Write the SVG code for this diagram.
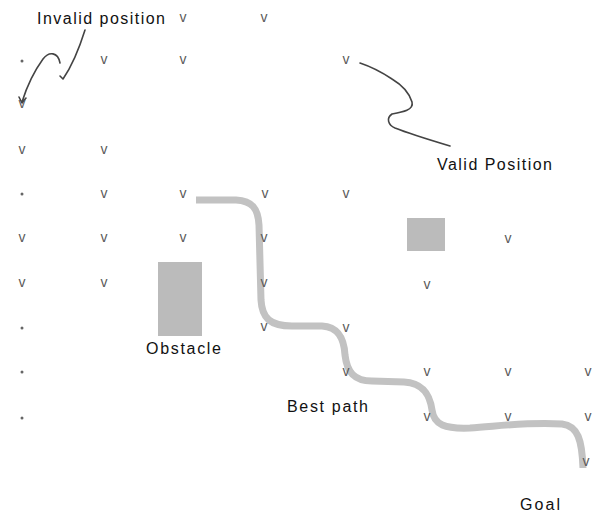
<svg xmlns="http://www.w3.org/2000/svg" width="592" height="516" viewBox="0 0 592 516">
<style>
.lbl{font-family:"Liberation Sans",Arial,sans-serif;font-size:16px;fill:#111}
.v{font-family:"Liberation Sans",Arial,sans-serif;font-size:14px;fill:#5a5a5a;text-anchor:middle}
.dot{fill:#666}
.obs{fill:#bbbbbb}
.best{fill:none;stroke:#c2c2c2;stroke-width:7;stroke-linecap:butt;stroke-linejoin:round}
.hand{fill:none;stroke:#444;stroke-width:1.6;stroke-linecap:round;stroke-linejoin:round}
</style>
<rect width="592" height="516" fill="#fff"/>
<g id="obstacle1"><rect class="obs" x="158" y="262" width="44" height="74"/></g>
<g id="obstacle2"><rect class="obs" x="407" y="218" width="38" height="33"/></g>
<g id="connectors">
<path id="best-path" class="best" d="M196,200 L236,200 C252,201 258,208 259,225 L261,300 C262,318 270,326 292,326 L322,326 C338,327 344,338 345,355 C347,372 354,381 372,381 L404,382 C424,383 430,396 432,410 C434,425 445,429 470,428 C500,426 525,422 562,424 C578,426 582,440 583,468"/>
<path class="hand" d="M85,30 C80,46 74,63 63,79 M63,79 L60,76"/>
<path class="hand" d="M60,63 C58,52 49,51 43,59 C35,70 27,86 22,102 M19,97 L22,103 L26,98"/>
<path class="hand" d="M360,63 C375,68 383,73 392,79 C402,85 409,92 412,102 C414,110 403,112 392,114 C386,118 388,125 395,128 C410,134 430,140 450,146"/>
</g>
<g id="labels">
<text class="lbl" x="37" y="24" textLength="128" lengthAdjust="spacing">Invalid position</text>
<text class="lbl" x="437" y="170" textLength="115" lengthAdjust="spacing">Valid Position</text>
<text class="lbl" x="146" y="354" textLength="75" lengthAdjust="spacing">Obstacle</text>
<text class="lbl" x="287" y="412" textLength="81" lengthAdjust="spacing">Best path</text>
<text class="lbl" x="520" y="510" textLength="40" lengthAdjust="spacing">Goal</text>
</g>
<g id="grid">
<text class="v" x="183" y="22">v</text>
<text class="v" x="264" y="22">v</text>
<circle class="dot" cx="22" cy="61" r="1.5"/>
<text class="v" x="104" y="64">v</text>
<text class="v" x="183" y="64">v</text>
<text class="v" x="346" y="64">v</text>
<text class="v" x="22" y="108">v</text>
<text class="v" x="22" y="154">v</text>
<text class="v" x="104" y="154">v</text>
<circle class="dot" cx="22" cy="194" r="1.5"/>
<text class="v" x="104" y="198">v</text>
<text class="v" x="183" y="198">v</text>
<text class="v" x="265" y="198">v</text>
<text class="v" x="346" y="198">v</text>
<text class="v" x="22" y="242">v</text>
<text class="v" x="104" y="242">v</text>
<text class="v" x="183" y="242">v</text>
<text class="v" x="264" y="242">v</text>
<text class="v" x="508" y="243">v</text>
<text class="v" x="22" y="287">v</text>
<text class="v" x="104" y="287">v</text>
<text class="v" x="264" y="287">v</text>
<text class="v" x="427" y="289">v</text>
<circle class="dot" cx="22" cy="328" r="1.5"/>
<text class="v" x="264" y="331">v</text>
<text class="v" x="346" y="332">v</text>
<circle class="dot" cx="22" cy="372" r="1.5"/>
<text class="v" x="346" y="376">v</text>
<text class="v" x="427" y="376">v</text>
<text class="v" x="508" y="376">v</text>
<text class="v" x="588" y="376">v</text>
<circle class="dot" cx="22" cy="418" r="1.5"/>
<text class="v" x="427" y="421">v</text>
<text class="v" x="508" y="421">v</text>
<text class="v" x="588" y="421">v</text>
<text class="v" x="586" y="466">v</text>
</g>
</svg>
